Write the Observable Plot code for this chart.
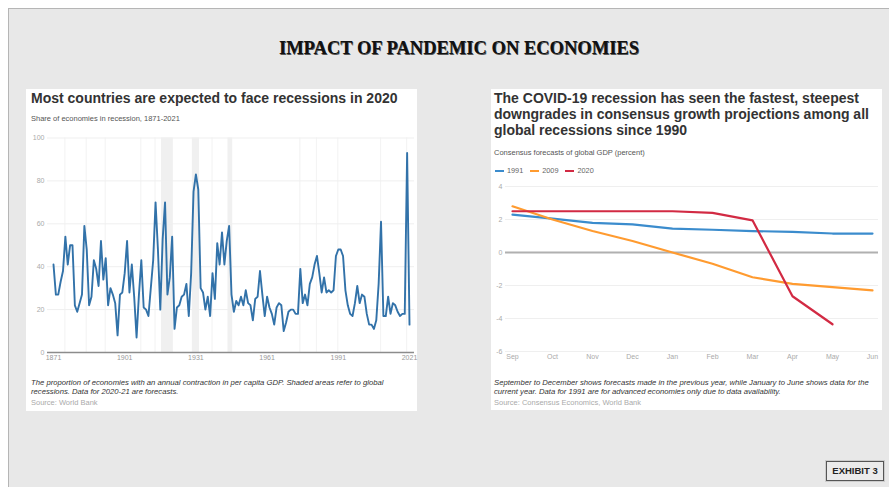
<!DOCTYPE html>
<html>
<head>
<meta charset="utf-8">
<script src="https://cdn.jsdelivr.net/npm/d3@7"></script>
<script src="https://cdn.jsdelivr.net/npm/@observablehq/plot@0.6"></script>
<style>
  html, body { margin: 0; padding: 0; background: #ffffff; width: 889px; height: 487px; overflow: hidden; }
  body { font-family: "Liberation Sans", Arial, sans-serif; position: relative; }
  #frame { position: absolute; left: 8px; top: 8px; width: 900px; height: 500px; background: #e8e8e8; border: 1px solid #b5b5b5; box-sizing: border-box; }
  .abs { position: absolute; }
  #mainTitle { left: 0; width: 918px; top: 38px; text-align: center; font-family: "Liberation Serif", "DejaVu Serif", serif; font-weight: bold; font-size: 18.5px; color: #111; text-shadow: 0.7px 0.7px 0.6px #555; letter-spacing: 0px; }
  .panel { position: absolute; background: #ffffff; }
  .ptitle { position: absolute; font-weight: bold; font-size: 14px; color: #333; line-height: 16px; white-space: nowrap; }
  .psub { position: absolute; font-size: 7.5px; color: #555; white-space: nowrap; }
  .pnote { position: absolute; font-size: 7.7px; color: #333; font-style: italic; line-height: 9px; white-space: nowrap; }
  .psrc { position: absolute; font-size: 7.5px; color: #aaa; white-space: nowrap; }
  .legend { position: absolute; font-size: 7.3px; color: #666; white-space: nowrap; display: flex; align-items: center; }
  .legend .sw { display: inline-block; width: 9px; height: 2px; margin-right: 3px; }
  .legend .it { display: inline-flex; align-items: center; margin-right: 7px; }
  #exhibit { position: absolute; left: 826px; top: 461px; width: 58px; height: 20px; border: 1px solid #555; box-shadow: 0 0 0 1px #ccc; background: #ebebeb; box-sizing: border-box; font-weight: bold; font-size: 9.5px; color: #222; text-align: center; line-height: 18px; }
</style>
</head>
<body>
<div id="frame"></div>
<div id="mainTitle" class="abs">IMPACT OF PANDEMIC ON ECONOMIES</div>

<div class="panel" style="left:26px; top:89px; width:391px; height:322px;"></div>
<div class="ptitle" style="left:31px; top:90px;">Most countries are expected to face recessions in 2020</div>
<div class="psub" style="left:31px; top:114px;">Share of economies in recession, 1871-2021</div>
<div id="leftChart" class="abs" style="left:26px; top:128px;"></div>
<div class="pnote" style="left:31px; top:378px;">The proportion of economies with an annual contraction in per capita GDP. Shaded areas refer to global<br>recessions. Data for 2020-21 are forecasts.</div>
<div class="psrc" style="left:31px; top:398px;">Source: World Bank</div>

<div class="panel" style="left:491px; top:89px; width:391px; height:321px;"></div>
<div class="ptitle" style="left:494px; top:90px;">The COVID-19 recession has seen the fastest, steepest<br>downgrades in consensus growth projections among all<br>global recessions since 1990</div>
<div class="psub" style="left:494px; top:148px;">Consensus forecasts of global GDP (percent)</div>
<div id="legend" class="legend" style="left:495px; top:166px;"></div>
<div id="rightChart" class="abs" style="left:491px; top:176px;"></div>
<div class="pnote" style="left:494px; top:378px;">September to December shows forecasts made in the previous year, while January to June shows data for the<br>current year. Data for 1991 are for advanced economies only due to data availability.</div>
<div class="psrc" style="left:494px; top:398px;">Source: Consensus Economics, World Bank</div>

<div id="exhibit">EXHIBIT 3</div>

<script>
// ---------- Left chart data ----------
const years = d3.range(1871, 2022);
const shareInRecession = [
  41,27,27,33,38,54,41,50,50,22,
  19,23,27,59,48,22,26,43,39,31,
  52,34,44,22,30,27,23,8,27,28,
  37,52,28,41,26,7,27,43,21,20,
  17,30,43,70,48,20,53,70,27,35,
  54,11,21,22,26,27,32,17,37,75,
  83,76,30,28,20,26,17,37,25,51,
  41,56,41,52,59,27,19,24,22,26,
  22,29,23,22,15,25,26,38,27,17,
  26,21,18,13,21,23,22,10,14,19,
  20,20,18,18,39,23,27,22,32,35,
  41,45,37,28,35,28,29,28,29,45,
  48,48,45,29,22,18,17,23,31,23,
  27,26,18,13,13,11,15,32,61,17,
  17,26,18,23,22,19,17,18,18,93,
  13
];
const recessionStart = [1876, 1885, 1893, 1908, 1914, 1917, 1930, 1938, 1945, 1975, 1982, 1991, 2009, 2020];
const recessionEnd   = [1876, 1885, 1893, 1908, 1914, 1921, 1932, 1938, 1946, 1975, 1982, 1991, 2009, 2020];
const leftYTicks = [0, 20, 40, 60, 80, 100];
const leftXTicks = [1871, 1901, 1931, 1961, 1991, 2021];

// ---------- Right chart data ----------
const months = ["Sep","Oct","Nov","Dec","Jan","Feb","Mar","Apr","May","Jun"];
const forecast1991 = [2.3, 2.05, 1.8, 1.7, 1.45, 1.38, 1.3, 1.25, 1.15, 1.15];
const forecast2009 = [2.8, 2.0, 1.3, 0.7, 0.0, -0.68, -1.5, -1.9, -2.1, -2.3];
const forecast2020 = [2.5, 2.5, 2.5, 2.5, 2.5, 2.4, 1.95, -2.65, -4.35, null];
const seriesNames = ["1991", "2009", "2020"];
const seriesColors = ["#3b8ccd", "#ff9b30", "#d22a43"];
const rightYTicks = [-6, -4, -2, 0, 2, 4];

// ---------- Build left ----------
const leftData = years.map((y, i) => ({year: y, value: shareInRecession[i]}));
const bands = recessionStart.map((s, i) => {
  const multi = recessionEnd[i] > s;
  return {x1: s - (multi ? 0.5 : 0.25), x2: recessionEnd[i] + (multi ? 0.5 : 0.25), multi};
});

const left = Plot.plot({
  width: 391,
  height: 239,
  marginLeft: 21,
  marginRight: 3,
  marginTop: 9.5,
  marginBottom: 15,
  style: {fontFamily: "Liberation Sans, Arial, sans-serif", fontSize: "7px", background: "transparent", overflow: "visible"},
  x: {domain: [1871, 2021], insetLeft: 6, insetRight: 5, label: null},
  y: {domain: [0, 100], label: null},
  marks: [
    Plot.rectX(bands, {x1: "x1", x2: "x2", y1: 0, y2: 100, fill: d => d.multi ? "#f0f0f0" : "#f4f4f4"}),
    Plot.ruleY([20, 40, 60, 80, 100], {stroke: "#efefef", strokeWidth: 1}),
    Plot.ruleY([0], {stroke: "#8c8c8c", strokeWidth: 1.5}),
    Plot.axisY({ticks: leftYTicks, tickSize: 0, tickPadding: 3, fill: "#aaa", fontSize: 7, tickFormat: d => String(d)}),
    Plot.axisX({ticks: leftXTicks, tickSize: 0, tickPadding: 3, fill: "#999", fontSize: 7, tickFormat: d => String(d)}),
    Plot.line(leftData, {x: "year", y: "value", stroke: "#3272a9", strokeWidth: 1.9, strokeLinejoin: "round"})
  ]
});
document.getElementById("leftChart").appendChild(left);

// ---------- Build right ----------
const seriesValues = [forecast1991, forecast2009, forecast2020];
const rightData = [];
seriesNames.forEach((name, s) => {
  months.forEach((m, i) => {
    const v = seriesValues[s][i];
    if (v !== null) rightData.push({series: name, month: m, value: v});
  });
});

const right = Plot.plot({
  width: 391,
  height: 190,
  marginLeft: 14,
  marginRight: 4,
  marginTop: 10,
  marginBottom: 15,
  style: {fontFamily: "Liberation Sans, Arial, sans-serif", fontSize: "7px", background: "transparent", overflow: "visible"},
  x: {type: "point", domain: months, padding: 0, insetLeft: 7, insetRight: 6, label: null},
  y: {domain: [-6, 4], label: null},
  color: {domain: seriesNames, range: seriesColors},
  marks: [
    Plot.ruleY([-6, -4, -2, 2, 4], {stroke: "#efefef", strokeWidth: 1}),
    Plot.ruleY([0], {stroke: "#b0b0b0", strokeWidth: 2}),
    Plot.axisY({ticks: rightYTicks, tickSize: 0, tickPadding: 3, fill: "#aaa", fontSize: 7, tickFormat: d => String(d)}),
    Plot.axisX({tickSize: 0, tickPadding: 3, fill: "#aaa", fontSize: 7}),
    Plot.line(rightData, {x: "month", y: "value", z: "series", stroke: "series", strokeWidth: 2.2, strokeLinejoin: "round"})
  ]
});
document.getElementById("rightChart").appendChild(right);

// ---------- Legend ----------
const lg = document.getElementById("legend");
seriesNames.forEach((name, i) => {
  const it = document.createElement("span");
  it.className = "it";
  const sw = document.createElement("span");
  sw.className = "sw";
  sw.style.background = seriesColors[i];
  it.appendChild(sw);
  it.appendChild(document.createTextNode(name));
  lg.appendChild(it);
});
</script>
</body>
</html>
